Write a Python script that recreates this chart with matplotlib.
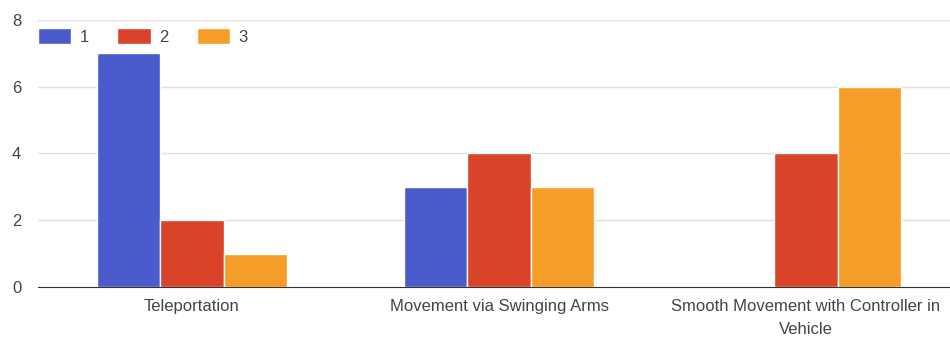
import numpy as np
import matplotlib.pyplot as plt

plt.rcParams['font.family'] = ['Liberation Sans', 'DejaVu Sans']

categories = ['Teleportation', 'Movement via Swinging Arms',
              'Smooth Movement with Controller in\nVehicle']
series_names = ['1', '2', '3']
values_1 = [7, 3, 0]
values_2 = [2, 4, 4]
values_3 = [1, 3, 6]
colors = ['#4a5bcc', '#d8432a', '#f59d28']

fig = plt.figure(figsize=(9.5, 3.38), dpi=100)
ax = fig.add_axes([0.04, 0.151, 0.96, 0.79])

x = np.arange(len(categories))
w = 0.206
for i, (vals, name) in enumerate(zip([values_1, values_2, values_3], series_names)):
    ax.bar(x + (i - 1) * w, vals, width=w, color=colors[i], edgecolor='white',
           linewidth=1, label=name, zorder=3)

ax.set_xlim(-0.5016, 2.469)
ax.set_ylim(0, 8)
ax.set_yticks([0, 2, 4, 6, 8])
ax.set_xticks(x)
ax.set_xticklabels(categories)
for lab in ax.get_xticklabels():
    lab.set_linespacing(1.65)
ax.grid(axis='y', color='#e0e0e0', linewidth=1, zorder=0)
for s in ['top', 'right', 'left']:
    ax.spines[s].set_visible(False)
ax.spines['bottom'].set_color('#333333')
ax.spines['bottom'].set_zorder(4)
ax.tick_params(length=0, colors='#444444', labelsize=12)
ax.tick_params(axis='y', pad=12)
ax.tick_params(axis='x', pad=9)

ax.legend(loc='upper left', ncol=3, frameon=False, bbox_to_anchor=(0, 0.97),
          borderpad=0, borderaxespad=0,
          handlelength=2.0, handleheight=1.15, columnspacing=1.7, handletextpad=0.5,
          fontsize=12, labelcolor='#444444')

fig.savefig('out.png', dpi=100)
